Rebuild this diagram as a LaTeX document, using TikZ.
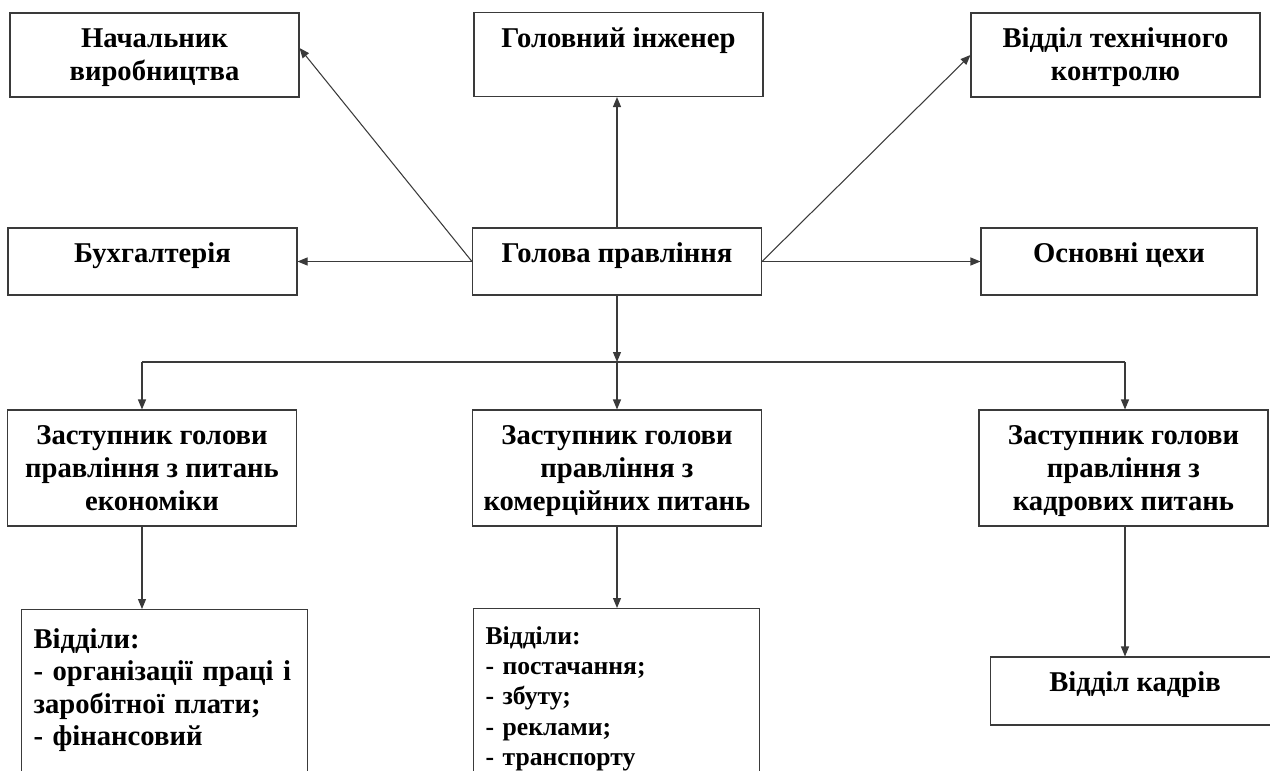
\documentclass[tikz,border=0pt]{standalone}
\usepackage{fontspec}
\setmainfont{Liberation Serif}
\usetikzlibrary{arrows.meta}
\definecolor{Frame}{HTML}{3A3A3A}
\tikzset{frame/.style={draw=Frame,line width=.6pt,minimum width=57.8mm,inner sep=0pt},caption/.style={anchor=north,yshift=-6.9pt,align=center,inner sep=0pt,font=\fontsize{16.3}{18.6}\selectfont\bfseries},list/.style={draw=Frame,line width=.6pt,anchor=north west,align=left,text width=52.4mm,inner xsep=2.4mm,inner ysep=9.3pt,font=\fontsize{16.3}{18.4}\selectfont\bfseries},link/.style={-{Triangle[length=2mm,width=1.6mm]},line width=.6pt,draw=Frame}}
\begin{document}
\begin{tikzpicture}[x=.2mm,y=-.2mm]
        \useasboundingbox(0,0)rectangle(1270,770);
        \clip(0,0)rectangle(1270,770);
        \node[frame,minimum height=16.8mm,label={[caption]north:\strut Начальник\\виробництва}](chief)at(154.5,55){};
        \node[frame,minimum height=16.8mm,label={[caption]north:\strut Головний інженер}](engineer)at(618.5,54.5){};
        \node[frame,minimum height=16.8mm,label={[caption]north:\strut Відділ технічного\\контролю}](control)at(1115.5,55){};
        \node[frame,minimum height=13.4mm,label={[caption]north:\strut Бухгалтерія}](accounts)at(152.5,261.5){};
        \node[frame,minimum height=13.4mm,label={[caption]north:\strut Голова правління}](head)at(617,261.5){};
        \node[frame,minimum height=13.4mm,minimum width=55.2mm,label={[caption]north:\strut Основні цехи}](shops)at(1119,261.5){};
        \node[frame,minimum height=23.2mm,label={[caption]north:\strut Заступник голови\\правління з питань\\економіки}](deputyA)at(152,468){};
        \node[frame,minimum height=23.2mm,label={[caption]north:\strut Заступник голови\\правління з\\комерційних питань}](deputyB)at(617,468){};
        \node[frame,minimum height=23.2mm,label={[caption]north:\strut Заступник голови\\правління з\\кадрових питань}](deputyC)at(1123.5,468){};
        \node[list](unitsA)at(21,609){\strut Відділи:\\- організації праці і\\заробітної плати;\\- фінансовий\\\strut};
        \node[list,inner ysep=8.4pt,font=\fontsize{14.6}{17.2}\selectfont\bfseries](unitsB)at(473,608){\strut Відділи:\\- постачання;\\- збуту;\\- реклами;\\- транспорту\\\strut};
        \node[frame,minimum height=13.6mm,label={[caption]north:\strut Відділ кадрів}](staff)at(1135,691){};
        \coordinate(fork)at(617,362);
        \coordinate(forkL)at(142,362);
        \coordinate(forkR)at(1125,362);
        \draw[link](head.west)--([yshift=1.4mm]chief.east);
        \draw[link](head.north)--(head.north|-engineer.south);
        \draw[link](head.east)--(control.west);
        \draw[link](head.west)--(accounts.east);
        \draw[link](head.east)--(shops.west);
        \draw[link](head.south)--(fork);
        \draw[link,-](forkL)--(forkR);
        \draw[link](forkL)--(forkL|-deputyA.north);
        \draw[link](fork)--(deputyB.north);
        \draw[link](forkR)--(forkR|-deputyC.north);
        \draw[link](forkL|-deputyA.south)--(forkL|-unitsA.north);
        \draw[link](deputyB.south)--(deputyB.south|-unitsB.north);
        \draw[link](forkR|-deputyC.south)--(forkR|-staff.north);
      \end{tikzpicture}
\end{document}
